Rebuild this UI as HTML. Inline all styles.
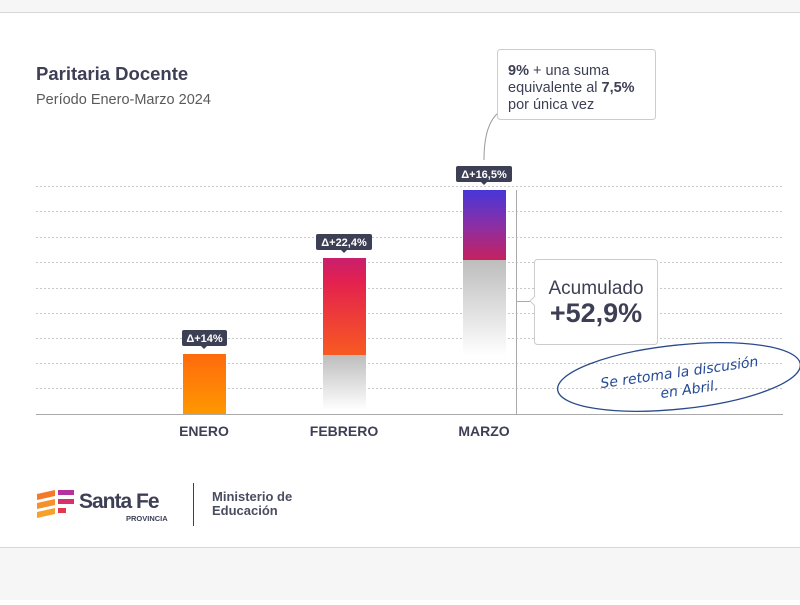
<!DOCTYPE html>
<html><head><meta charset="utf-8"><style>
body{margin:0;width:800px;height:600px;overflow:hidden;background:#fff;font-family:"Liberation Sans",sans-serif}
</style></head><body>
<svg width="800" height="600" xmlns="http://www.w3.org/2000/svg" font-family="Liberation Sans, sans-serif">
<defs>
<linearGradient id="ge" x1="0" y1="0" x2="0" y2="1"><stop offset="0" stop-color="#ff6a0c"/><stop offset="1" stop-color="#ff9800"/></linearGradient>
<linearGradient id="gf" x1="0" y1="0" x2="0" y2="1"><stop offset="0" stop-color="#c81f6d"/><stop offset="0.25" stop-color="#e4214e"/><stop offset="1" stop-color="#f85a22"/></linearGradient>
<linearGradient id="gm" x1="0" y1="0" x2="0" y2="1"><stop offset="0" stop-color="#4736d9"/><stop offset="0.5" stop-color="#8a2fa6"/><stop offset="1" stop-color="#c5215e"/></linearGradient>
<linearGradient id="gg" x1="0" y1="0" x2="0" y2="1"><stop offset="0" stop-color="#bdbdbd"/><stop offset="1" stop-color="#ffffff"/></linearGradient>
</defs>
<rect x="0" y="0" width="800" height="12" fill="#f6f6f6"/>
<line x1="0" y1="12.5" x2="800" y2="12.5" stroke="#d6d6d6"/>
<rect x="0" y="547" width="800" height="53" fill="#f6f6f6"/>
<line x1="0" y1="547.5" x2="800" y2="547.5" stroke="#d6d6d6"/>
<text x="36" y="80" font-size="18.5" font-weight="bold" fill="#3d3f55">Paritaria Docente</text>
<text x="36" y="104" font-size="14.5" fill="#5a5a5a">Período Enero-Marzo 2024</text>
<g stroke="#c8c8c8" stroke-dasharray="2,2" stroke-width="1">
<line x1="36" y1="186.5" x2="783" y2="186.5"/><line x1="36" y1="211.5" x2="783" y2="211.5"/>
<line x1="36" y1="237.5" x2="783" y2="237.5"/><line x1="36" y1="262.5" x2="783" y2="262.5"/>
<line x1="36" y1="288.5" x2="783" y2="288.5"/><line x1="36" y1="313.5" x2="783" y2="313.5"/>
<line x1="36" y1="338.5" x2="783" y2="338.5"/><line x1="36" y1="363.5" x2="783" y2="363.5"/>
<line x1="36" y1="388.5" x2="783" y2="388.5"/>
</g>
<rect x="183" y="354" width="43" height="60" fill="url(#ge)"/>
<rect x="323" y="355" width="43" height="55" fill="url(#gg)"/>
<rect x="323" y="258" width="43" height="97" fill="url(#gf)"/>
<rect x="463" y="260" width="43" height="96" fill="url(#gg)"/>
<rect x="463" y="190" width="43" height="70" fill="url(#gm)"/>
<line x1="36" y1="414.5" x2="783" y2="414.5" stroke="#aaa"/>
<line x1="516.5" y1="190" x2="516.5" y2="414" stroke="#aaa"/>
<line x1="516" y1="301.5" x2="533" y2="301.5" stroke="#aaa"/>
<g font-size="11" font-weight="bold" fill="#fff" text-anchor="middle">
<rect x="182" y="330" width="45" height="16" rx="2" fill="#3d3f55"/><path d="M201 346 L204 349 L207 346Z" fill="#3d3f55"/><text x="204.5" y="342">Δ+14%</text>
<rect x="316" y="234" width="56" height="16" rx="2" fill="#3d3f55"/><path d="M341 250 L344 253 L347 250Z" fill="#3d3f55"/><text x="344" y="246">Δ+22,4%</text>
<rect x="456" y="166" width="56" height="16" rx="2" fill="#3d3f55"/><path d="M481 182 L484 185 L487 182Z" fill="#3d3f55"/><text x="484" y="178">Δ+16,5%</text>
</g>
<path d="M498 113 Q484 125 484 160" fill="none" stroke="#999"/>
<rect x="497.5" y="49.5" width="158" height="70" rx="3" fill="#fff" stroke="#ccc"/>
<g font-size="14.5" fill="#3d3f55">
<text x="508" y="75"><tspan font-weight="bold">9%</tspan> + una suma</text>
<text x="508" y="92">equivalente al <tspan font-weight="bold">7,5%</tspan></text>
<text x="508" y="109">por única vez</text>
</g>
<rect x="534.5" y="259.5" width="123" height="85" rx="3" fill="#fff" stroke="#ccc"/>
<path d="M535 296 L530 301 L535 306" fill="#fff" stroke="#ccc"/>
<text x="596" y="294" font-size="19" fill="#3d3f55" text-anchor="middle">Acumulado</text>
<text x="596" y="322" font-size="27" font-weight="bold" fill="#3d3f55" text-anchor="middle">+52,9%</text>
<ellipse cx="679" cy="377" rx="122" ry="32" transform="rotate(-6 679 377)" fill="none" stroke="#2a4a8a" stroke-width="1.3"/>
<g font-family="DejaVu Sans, sans-serif" font-style="italic" font-size="14" fill="#234a96" text-anchor="middle">
<text x="680" y="377" transform="rotate(-8 680 377)">Se retoma la discusión</text>
<text x="690" y="394" transform="rotate(-8 690 394)">en Abril.</text>
</g>
<g font-size="14" font-weight="bold" fill="#3d3f55" text-anchor="middle">
<text x="204" y="436">ENERO</text><text x="344" y="436">FEBRERO</text><text x="484" y="436">MARZO</text>
</g>
<g>
<path d="M37 494 L55 490 L55 496 L37 500Z" fill="#f47a2a"/>
<path d="M37 503 L55 499 L55 505 L37 509Z" fill="#f5902a"/>
<path d="M37 512 L55 508 L55 514 L37 518Z" fill="#f7a12a"/>
<rect x="58" y="490" width="16" height="5" fill="#b531a0"/>
<rect x="58" y="499" width="16" height="5" fill="#d6336b"/>
<rect x="58" y="508" width="8" height="5" fill="#e23a4a"/>
<text x="79" y="508" font-size="21" font-weight="bold" fill="#3d3f55" letter-spacing="-1">Santa Fe</text>
<text x="126" y="521" font-size="7.5" font-weight="bold" fill="#3d3f55">PROVINCIA</text>
<line x1="193.5" y1="483" x2="193.5" y2="526" stroke="#3d3f55"/>
<text x="212" y="501" font-size="13" font-weight="bold" fill="#4a4c60">Ministerio de</text>
<text x="212" y="515" font-size="13" font-weight="bold" fill="#4a4c60">Educación</text>
</g>
</svg>
</body></html>
